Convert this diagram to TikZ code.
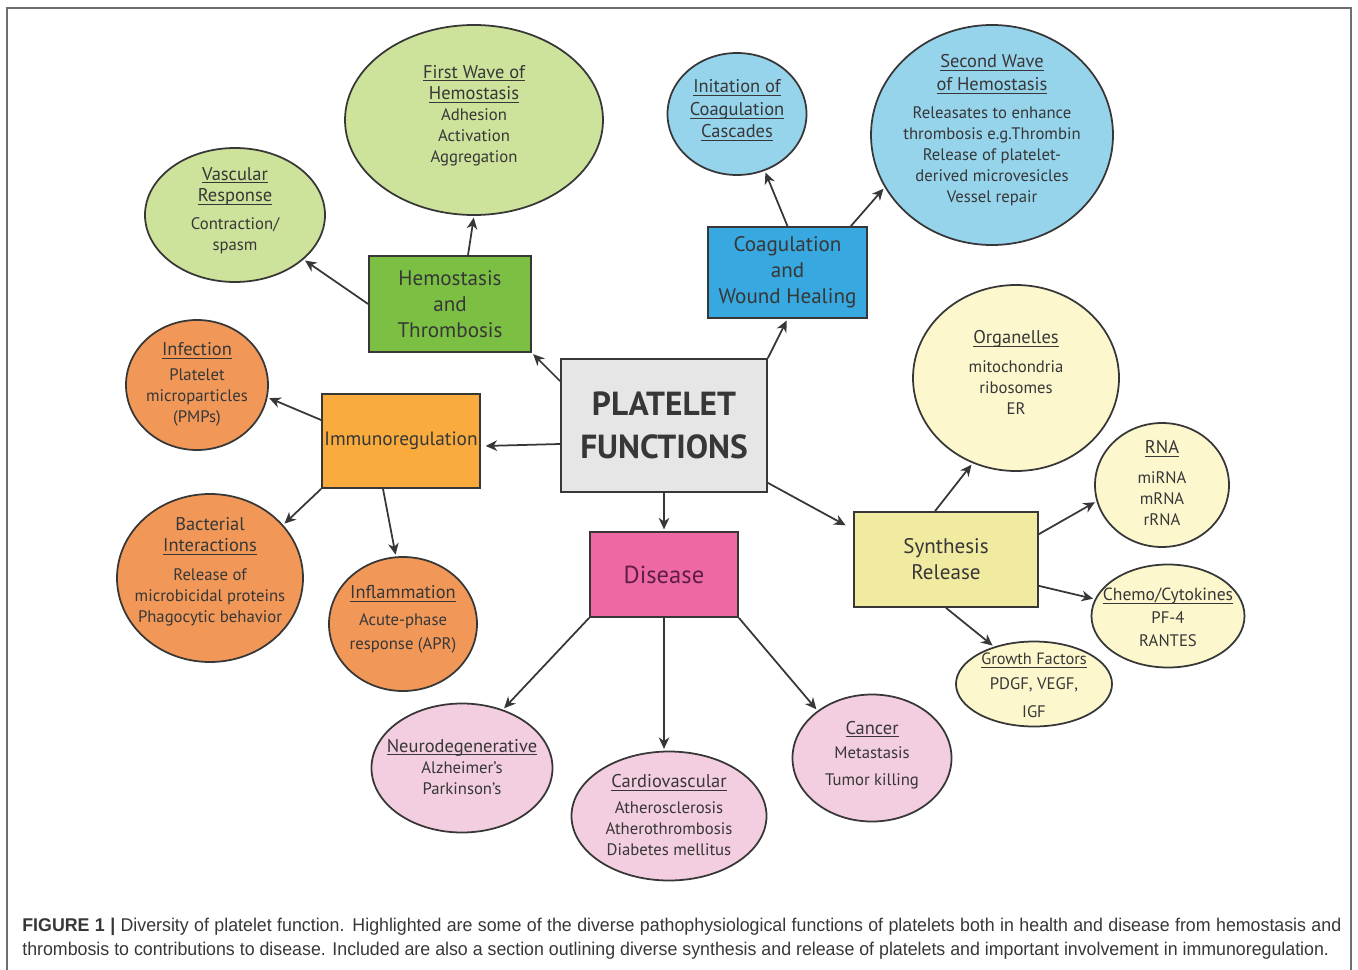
\documentclass[tikz,border=0pt]{standalone}
\usepackage{fontspec}
\setmainfont{PT Sans}
\newfontfamily\capfont[FakeStretch=0.964]{Liberation Sans}
\usetikzlibrary{shapes.geometric,arrows.meta}

\definecolor{linecol}{RGB}{55,55,55}
\definecolor{framecol}{RGB}{110,110,110}
\definecolor{hemogreen}{RGB}{123,192,67}
\definecolor{lightgreen}{RGB}{205,226,154}
\definecolor{coagblue}{RGB}{56,168,224}
\definecolor{lightblue}{RGB}{150,212,236}
\definecolor{immunoorange}{RGB}{249,171,61}
\definecolor{lightorange}{RGB}{241,152,88}
\definecolor{diseasepink}{RGB}{238,104,164}
\definecolor{lightpink}{RGB}{243,205,224}
\definecolor{diseasetext}{RGB}{95,30,70}
\definecolor{synthyellow}{RGB}{240,235,160}
\definecolor{lightyellow}{RGB}{252,247,205}
\definecolor{centergray}{RGB}{230,230,230}

\newcommand{\hd}[2][10.5]{{\fontsize{#1}{12}\selectfont\setbox0\hbox{#2}\rlap{\rule[-1.8pt]{\wd0}{0.45pt}}\box0}}
\newcommand{\bubtext}[2][0pt]{\makebox[0pt]{\raisebox{#1}{\smash{\begin{tabular}{@{}c@{}}#2\end{tabular}}}}}

\begin{document}
\begin{tikzpicture}[
  box/.style={draw=linecol, line width=1pt, fill=#1, align=center, inner sep=0pt,
              text=linecol, font=\fontsize{12}{14.7}\selectfont},
  bub/.style={ellipse, draw=linecol, line width=1pt, fill=#1, inner sep=0pt,
              text=linecol, font=\fontsize{9.5}{12}\selectfont},
  arr/.style={->, >={Stealth[length=6.5pt,width=6pt,inset=2pt]}, line width=1pt, draw=linecol, shorten >=1pt}
]
  \useasboundingbox (0,0) rectangle (27.16,-19.40);
  \draw[framecol, line width=1pt] (0.14,-19.9) -- (0.14,-0.16) -- (27.02,-0.16) -- (27.02,-19.9);

  \node[box=centergray, minimum width=4.12cm, minimum height=2.66cm,
        font=\bfseries\fontsize{19}{24.5}\selectfont] (center) at (13.28,-8.51) {PLATELET\\FUNCTIONS};
  \node[box=hemogreen,    minimum width=3.24cm, minimum height=1.92cm] (hemo)   at (9.00,-6.08)  {Hemostasis\\and\\Thrombosis};
  \node[box=coagblue,     minimum width=3.18cm, minimum height=1.82cm] (coag)   at (15.75,-5.45) {Coagulation\\and\\Wound Healing};
  \node[box=immunoorange, minimum width=3.16cm, minimum height=1.88cm,
        font=\fontsize{11}{14}\selectfont] (immuno) at (8.02,-8.82)  {Immunoregulation};
  \node[box=synthyellow,  minimum width=3.68cm, minimum height=1.90cm] (synth)  at (18.92,-11.19) {Synthesis\\Release};
  \node[box=diseasepink,  minimum width=2.96cm, minimum height=1.70cm, text=diseasetext,
        font=\fontsize{14}{16}\selectfont] (disease) at (13.28,-11.49) {Disease};

  \node[bub=lightgreen, minimum width=5.16cm, minimum height=3.80cm] (firstwave) at (9.48,-2.40)
    {\bubtext{\hd{First Wave of}\\\hd{Hemostasis}\\Adhesion\\Activation\\Aggregation}};
  \node[bub=lightgreen, minimum width=3.60cm, minimum height=2.68cm] (vascular) at (4.70,-4.30)
    {\bubtext{\hd{Vascular}\\\hd{Response}\\[4pt]Contraction/\\spasm}};
  \node[bub=lightblue, minimum width=2.78cm, minimum height=2.44cm] (initiation) at (14.74,-2.28)
    {\bubtext[-1pt]{\hd{Initation of}\\[1pt]\hd{Coagulation}\\[1pt]\hd{Cascades}}};
  \node[bub=lightblue, minimum width=4.84cm, minimum height=4.40cm] (secondwave) at (19.84,-2.70)
    {\bubtext{\hd{Second Wave}\\[1pt]\hd{of Hemostasis}\\[4pt]Releasates to enhance\\thrombosis e.g.Thrombin\\Release of platelet-\\derived microvesicles\\Vessel repair}};
  \node[bub=lightorange, minimum width=2.84cm, minimum height=2.60cm] (infection) at (3.94,-7.70)
    {\bubtext[-4.5pt]{\hd{Infection}\\[2pt]Platelet\\microparticles\\(PMPs)}};
  \node[bub=lightorange, minimum width=3.72cm, minimum height=3.36cm] (bacterial) at (4.20,-11.56)
    {\bubtext[2pt]{{\fontsize{10.5}{12}\selectfont Bacterial}\\\hd{Interactions}\\[4pt]Release of\\microbicidal proteins\\Phagocytic behavior}};
  \node[bub=lightorange, minimum width=2.96cm, minimum height=2.68cm] (inflammation) at (8.06,-12.48)
    {\bubtext{\hd{Inflammation}\\[3pt]Acute-phase\\[2pt]response (APR)}};
  \node[bub=lightyellow, minimum width=4.12cm, minimum height=3.72cm] (organelles) at (20.32,-7.56)
    {\bubtext[-1pt]{\hd{Organelles}\\[4pt]mitochondria\\ribosomes\\ER}};
  \node[bub=lightyellow, minimum width=2.68cm, minimum height=2.48cm] (rna) at (23.24,-9.70)
    {\bubtext[-5pt]{\hd{RNA}\\[5pt]miRNA\\mRNA\\rRNA}};
  \node[bub=lightyellow, minimum width=3.06cm, minimum height=2.06cm] (chemo) at (23.36,-12.32)
    {\bubtext[-8pt]{\hd[10]{Chemo/Cytokines}\\[1pt]PF-4\\[1pt]RANTES}};
  \node[bub=lightyellow, minimum width=3.12cm, minimum height=1.70cm] (growth) at (20.68,-13.68)
    {\bubtext[-8pt]{\hd[9.3]{Growth Factors}\\[2pt]PDGF, VEGF,\\[4pt]IGF}};
  \node[bub=lightpink, minimum width=3.62cm, minimum height=2.58cm] (neuro) at (9.24,-15.36)
    {\bubtext[-5.5pt]{\hd{Neurodegenerative}\\Alzheimer's\\Parkinson's}};
  \node[bub=lightpink, minimum width=3.90cm, minimum height=2.58cm] (cardio) at (13.38,-16.32)
    {\bubtext[-6pt]{\hd{Cardiovascular}\\[3pt]Atherosclerosis\\Atherothrombosis\\Diabetes mellitus}};
  \node[bub=lightpink, minimum width=3.18cm, minimum height=2.54cm] (cancer) at (17.44,-15.16)
    {\bubtext[-1.5pt]{\hd{Cancer}\\[2pt]Metastasis\\[3pt]Tumor killing}};

  \draw[arr] ([yshift=-0.46cm]center.north west) -- (hemo.south east);
  \draw[arr] ([xshift=0.36cm]hemo.north) -- (firstwave.south);
  \draw[arr] (hemo.west) -- (vascular.-33);
  \draw[arr] (center.north east) -- (coag.south);
  \draw[arr] (coag.north) -- (initiation.-64);
  \draw[arr] ([xshift=-0.34cm]coag.north east) -- (secondwave.206);
  \draw[arr] ([yshift=-0.37cm]center.west) -- ([xshift=0.06cm,yshift=-0.1cm]immuno.east);
  \draw[arr] ([yshift=0.42cm]immuno.west) -- (infection.-10);
  \draw[arr] (immuno.south west) -- (bacterial.36);
  \draw[arr] ([xshift=-0.36cm]immuno.south) -- (inflammation.96);
  \draw[arr] (center.south) -- (disease.north);
  \draw[arr] ([yshift=0.2cm]center.south east) -- ([xshift=-0.12cm,yshift=-0.3cm]synth.north west);
  \draw[arr] ([xshift=-0.22cm]synth.north) -- (organelles.243);
  \draw[arr] ([yshift=-0.46cm]synth.north east) -- (rna.194);
  \draw[arr] ([yshift=0.44cm]synth.south east) -- (chemo.167);
  \draw[arr] (synth.south) -- (growth.137);
  \draw[arr] (disease.south west) -- (neuro.55);
  \draw[arr] (disease.south) -- (disease.south |- cardio.north);
  \draw[arr] (disease.south east) -- (cancer.139);

  \node[anchor=north west, text width=26.38cm, align=justify, inner sep=0pt, text=linecol,
        font=\capfont\fontsize{10.5}{13.6}\selectfont] (caption) at (0.44,-18.36)
    {\textbf{FIGURE 1 |} Diversity of platelet function. Highlighted are some of the diverse pathophysiological functions of platelets both in health and disease from hemostasis and\linebreak thrombosis to contributions to disease. Included are also a section outlining diverse synthesis and release of platelets and important involvement in immunoregulation.};
\end{tikzpicture}
\end{document}
